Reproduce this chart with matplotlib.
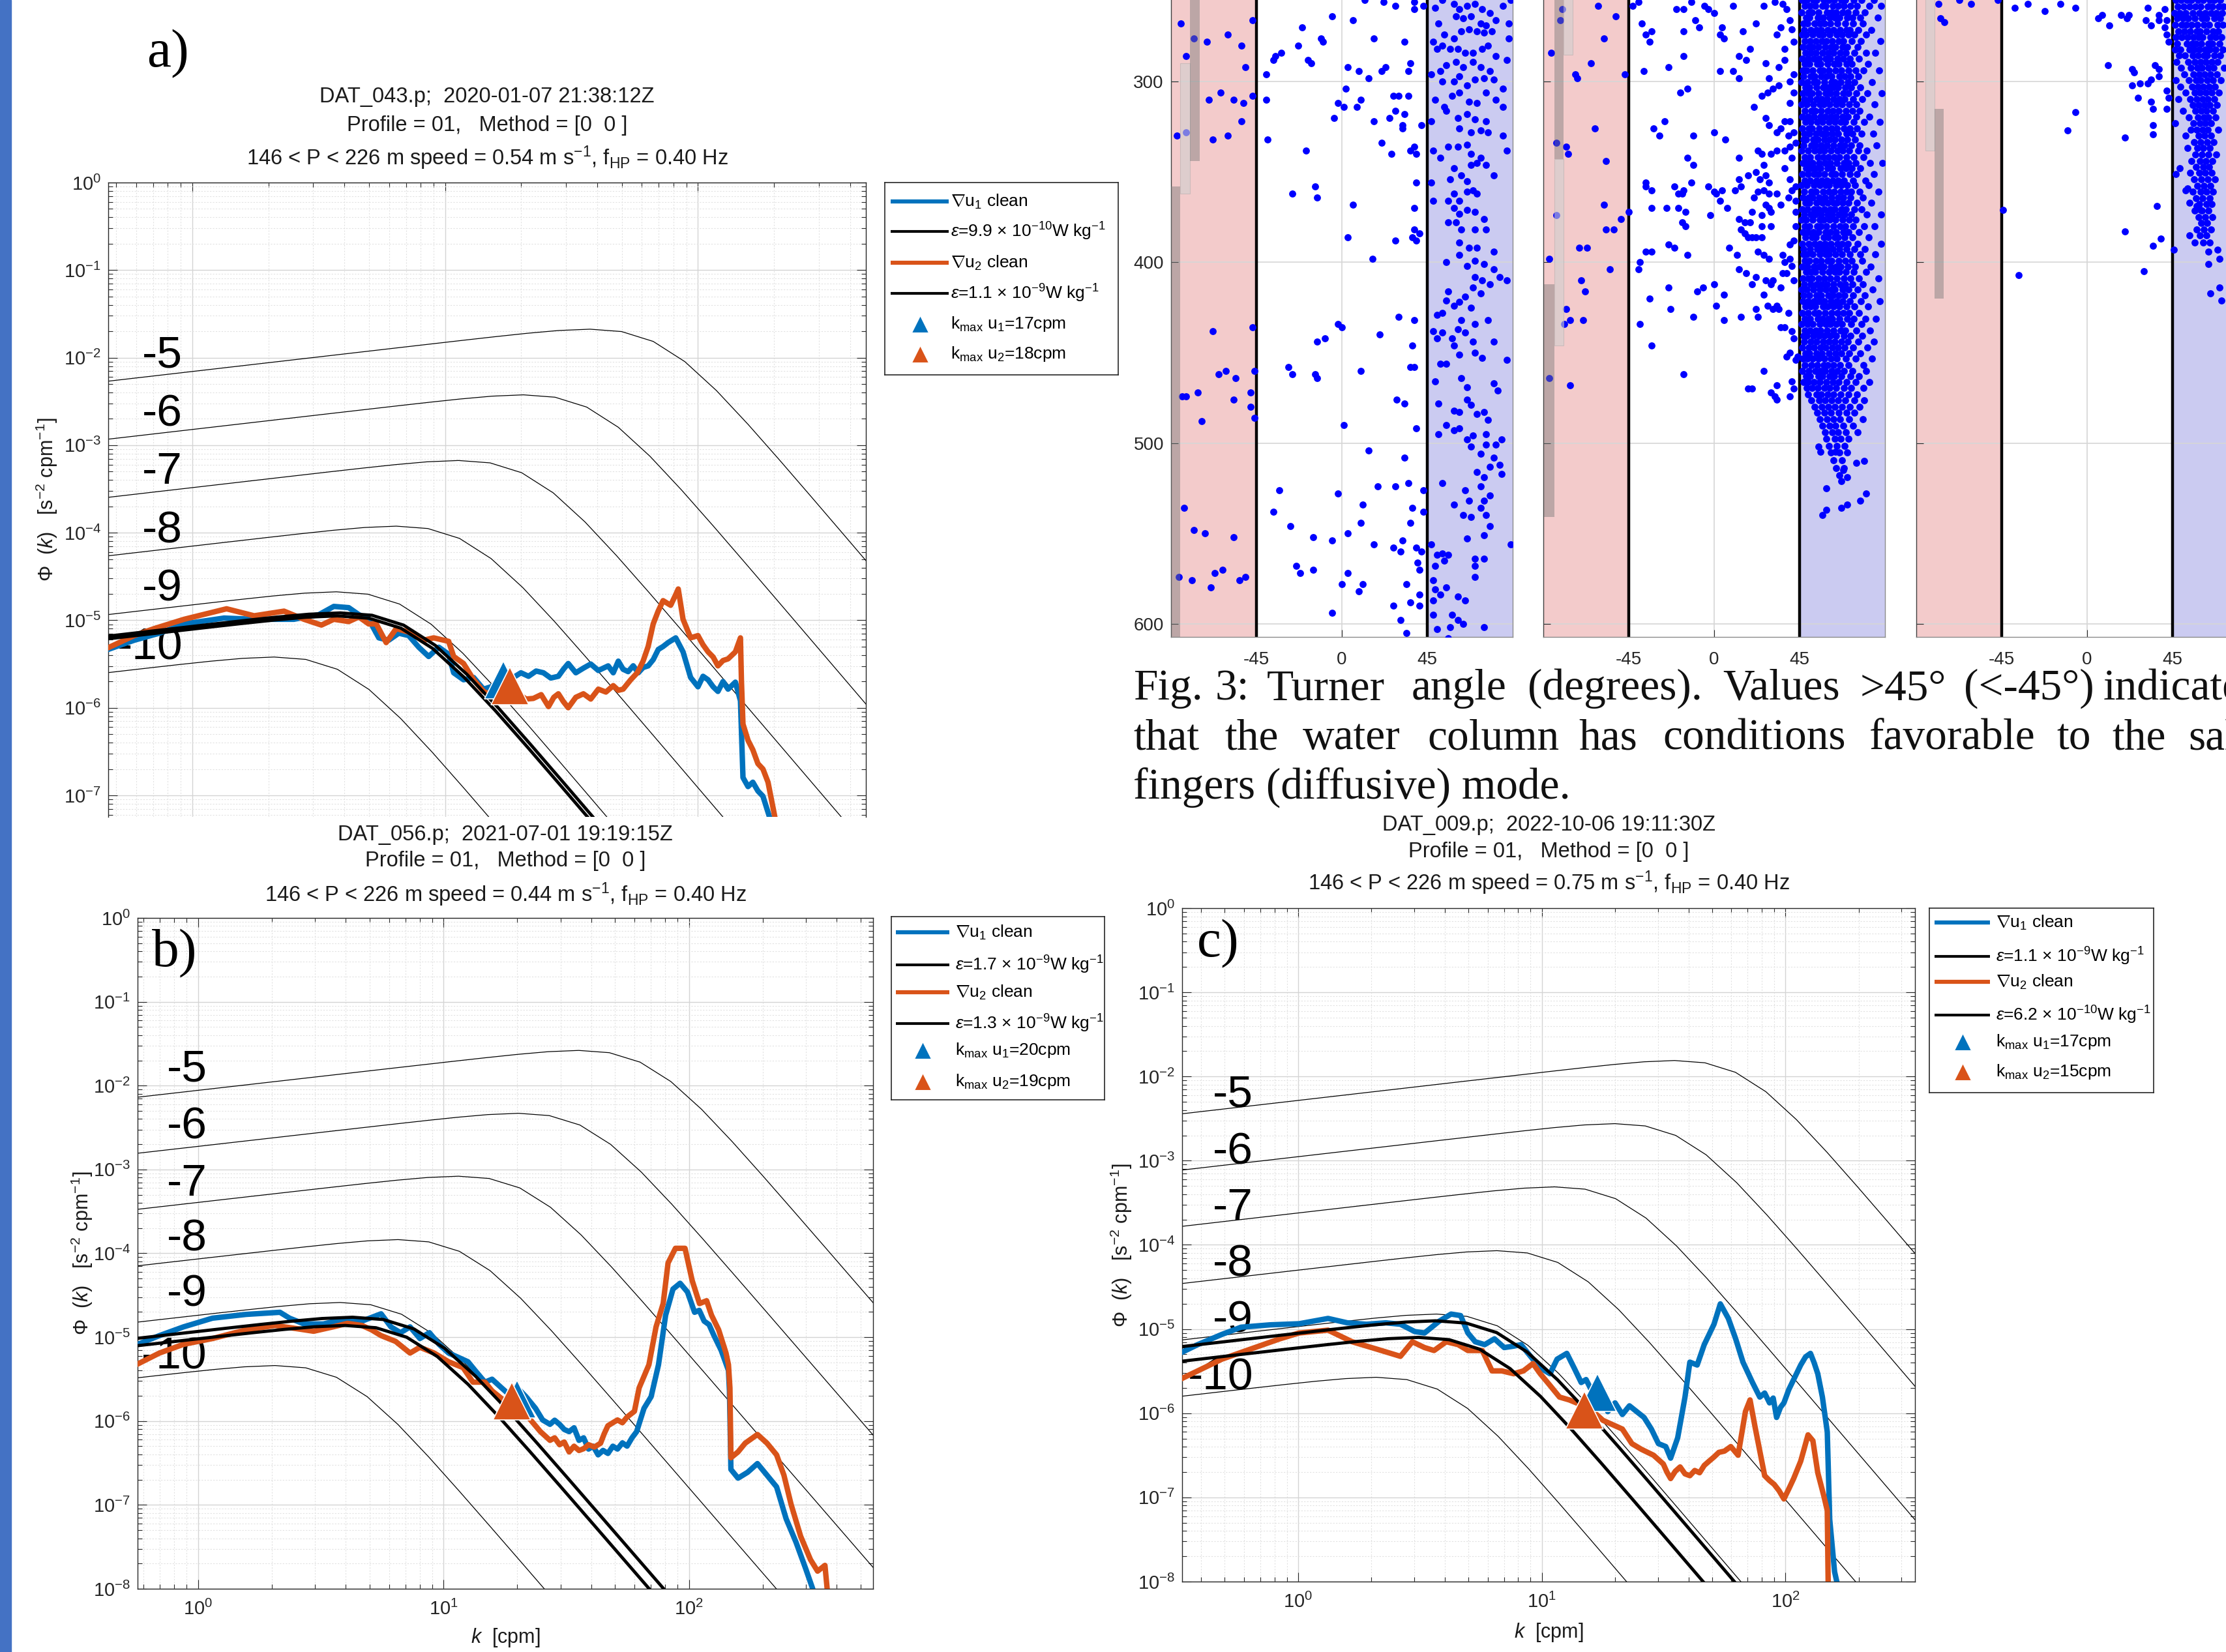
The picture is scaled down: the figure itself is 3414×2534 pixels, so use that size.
import matplotlib.pyplot as plt
import numpy as np
from matplotlib.patches import Rectangle
from matplotlib.ticker import LogLocator, NullFormatter

FIG_W, FIG_H, DPI = 3414, 2534, 100

BLUE = "#0072BD"
ORANGE = "#D95319"
PINK = "#F3CBCB"
LAVENDER = "#CBCBF1"

# ---------------------------------------------------------------- spectra data
# shape of the reference (Nasmyth) curves:
# decades away from the peak of each curve
SHAPE_DK = [-3.0, -1.0, -0.75, -0.5, -0.375, -0.25, -0.125, 0.0, 0.125, 0.25,
            0.375, 0.5, 0.625, 0.75, 0.875, 1.0, 1.25, 1.5, 3.0]
SHAPE_DPHI = [-0.959, -0.2925, -0.2092, -0.1264, -0.0859, -0.0475, -0.0153, 0.0,
              -0.0272, -0.1399, -0.3705, -0.7011, -1.087, -1.4963, -1.9144,
              -2.3355, -3.1804, -4.0256, -9.098]

REF_LABELS = ["-10", "-9", "-8", "-7", "-6", "-5"]

# log10 (k, Phi) of the peak of each reference curve, eps = 1e-10 ... 1e-5
A_REF_PEAKS = [(0.324, -5.42), (0.570, -4.675), (0.807, -3.925),
               (1.053, -3.175), (1.310, -2.425), (1.573, -1.675)]
B_REF_PEAKS = [(0.314, -5.338), (0.579, -4.586), (0.815, -3.836),
               (1.061, -3.080), (1.306, -2.330), (1.551, -1.580)]
C_REF_PEAKS = [(0.321, -5.573), (0.568, -4.822), (0.816, -4.069),
               (1.053, -3.311), (1.300, -2.560), (1.545, -1.810)]

# fitted spectra peaks (u1, u2)
A_FITS = [(0.575, -4.950), (0.586, -4.916)]
B_FITS = [(0.630, -4.762), (0.600, -4.860)]
C_FITS = [(0.565, -4.902), (0.495, -5.099)]

# k_max markers, log10 (k, Phi)
A_KMAX = [(1.230, -5.68), (1.255, -5.75)]
B_KMAX = [(1.301, -5.74), (1.279, -5.76)]
C_KMAX = [(1.230, -5.756), (1.176, -5.964)]

# measured shear spectra, log10 (k [cpm], Phi)
A_U1 = [(-0.347, -5.348), (-0.229, -5.228), (-0.130, -5.148), (-0.032, -5.042),
        (0.126, -4.975), (0.245, -4.989), (0.402, -4.989), (0.501, -4.936),
        (0.560, -4.842), (0.619, -4.856), (0.659, -4.936), (0.698, -4.989),
        (0.738, -5.201), (0.777, -5.228), (0.817, -5.148), (0.856, -5.175),
        (0.896, -5.308), (0.935, -5.414), (0.975, -5.308), (1.014, -5.388),
        (1.034, -5.600), (1.073, -5.680), (1.113, -5.654), (1.152, -5.787),
        (1.182, -5.760), (1.211, -5.700), (1.240, -5.620), (1.270, -5.654),
        (1.300, -5.600), (1.330, -5.640), (1.360, -5.580), (1.389, -5.600),
        (1.418, -5.660), (1.448, -5.640), (1.468, -5.560), (1.487, -5.494),
        (1.517, -5.600), (1.547, -5.547), (1.576, -5.500), (1.606, -5.574),
        (1.645, -5.521), (1.665, -5.600), (1.685, -5.467), (1.704, -5.560),
        (1.724, -5.587), (1.744, -5.520), (1.764, -5.600), (1.783, -5.540),
        (1.803, -5.521), (1.823, -5.450), (1.843, -5.334), (1.862, -5.300),
        (1.882, -5.255), (1.912, -5.201), (1.941, -5.361), (1.971, -5.654),
        (2.000, -5.760), (2.020, -5.640), (2.040, -5.680), (2.060, -5.760),
        (2.079, -5.813), (2.099, -5.700), (2.119, -5.787), (2.148, -5.707),
        (2.168, -5.920), (2.174, -6.451), (2.178, -6.797), (2.198, -6.900),
        (2.217, -6.850), (2.237, -6.950), (2.257, -7.010), (2.286, -7.276)]
A_U2 = [(-0.347, -5.334), (-0.229, -5.175), (-0.150, -5.095), (-0.032, -4.989),
        (0.136, -4.869), (0.245, -4.949), (0.363, -4.896), (0.442, -4.989),
        (0.511, -5.055), (0.560, -4.989), (0.619, -5.015), (0.659, -4.962),
        (0.698, -5.042), (0.728, -5.042), (0.767, -5.255), (0.807, -5.095),
        (0.856, -5.135), (0.915, -5.228), (0.955, -5.201), (1.014, -5.241),
        (1.034, -5.414), (1.073, -5.494), (1.113, -5.680), (1.152, -5.813),
        (1.192, -5.866), (1.231, -5.893), (1.260, -5.830), (1.290, -5.840),
        (1.320, -5.900), (1.349, -5.893), (1.380, -5.850), (1.409, -5.986),
        (1.430, -5.880), (1.448, -5.840), (1.468, -5.930), (1.487, -5.999),
        (1.517, -5.880), (1.547, -5.840), (1.576, -5.900), (1.606, -5.787),
        (1.636, -5.820), (1.665, -5.747), (1.685, -5.800), (1.704, -5.787),
        (1.734, -5.680), (1.760, -5.600), (1.783, -5.467), (1.803, -5.300),
        (1.823, -5.042), (1.842, -4.900), (1.862, -4.776), (1.892, -4.829),
        (1.910, -4.720), (1.922, -4.643), (1.941, -4.989), (1.971, -5.201),
        (2.000, -5.175), (2.020, -5.280), (2.040, -5.361), (2.060, -5.420),
        (2.079, -5.521), (2.099, -5.460), (2.119, -5.441), (2.148, -5.361),
        (2.168, -5.201), (2.172, -5.700), (2.178, -6.186), (2.198, -6.372),
        (2.217, -6.480), (2.237, -6.638), (2.257, -6.700), (2.277, -6.850),
        (2.306, -7.276)]

B_U1 = [(-0.275, -5.120), (-0.157, -4.981), (-0.059, -4.877), (0.059, -4.773),
        (0.196, -4.728), (0.334, -4.703), (0.373, -4.773), (0.432, -4.842),
        (0.511, -4.842), (0.589, -4.790), (0.668, -4.808), (0.746, -4.721),
        (0.786, -4.877), (0.825, -4.946), (0.864, -4.877), (0.904, -5.016),
        (0.943, -4.946), (0.982, -5.085), (1.021, -5.189), (1.061, -5.241),
        (1.100, -5.293), (1.129, -5.397), (1.169, -5.536), (1.198, -5.501),
        (1.237, -5.605), (1.277, -5.709), (1.296, -5.588), (1.336, -5.709),
        (1.375, -5.848), (1.404, -5.987), (1.434, -6.039), (1.453, -5.990),
        (1.473, -6.039), (1.492, -6.100), (1.512, -6.126), (1.532, -6.080),
        (1.552, -6.230), (1.571, -6.200), (1.591, -6.334), (1.610, -6.300),
        (1.630, -6.403), (1.650, -6.350), (1.670, -6.386), (1.690, -6.300),
        (1.709, -6.334), (1.729, -6.260), (1.748, -6.299), (1.768, -6.200),
        (1.787, -6.126), (1.817, -5.848), (1.846, -5.709), (1.876, -5.328),
        (1.905, -4.738), (1.935, -4.426), (1.964, -4.357), (1.994, -4.461),
        (2.023, -4.703), (2.042, -4.680), (2.062, -4.808), (2.082, -4.850),
        (2.102, -4.981), (2.131, -5.154), (2.161, -5.397), (2.165, -5.640),
        (2.171, -6.577), (2.200, -6.681), (2.239, -6.611), (2.279, -6.507),
        (2.318, -6.646), (2.357, -6.785), (2.396, -7.166), (2.436, -7.444),
        (2.475, -7.756), (2.504, -7.999), (2.520, -8.200)]
B_U2 = [(-0.275, -5.363), (-0.157, -5.189), (-0.059, -5.085), (0.059, -5.016),
        (0.196, -4.912), (0.314, -4.860), (0.393, -4.894), (0.471, -4.929),
        (0.550, -4.877), (0.609, -4.835), (0.668, -4.860), (0.707, -4.912),
        (0.746, -4.981), (0.805, -5.050), (0.864, -5.189), (0.904, -5.120),
        (0.962, -5.189), (1.021, -5.293), (1.080, -5.363), (1.120, -5.536),
        (1.169, -5.536), (1.198, -5.640), (1.257, -5.779), (1.316, -5.848),
        (1.355, -5.987), (1.395, -6.126), (1.434, -6.230), (1.453, -6.200),
        (1.473, -6.282), (1.492, -6.250), (1.512, -6.368), (1.532, -6.300),
        (1.552, -6.351), (1.571, -6.330), (1.591, -6.282), (1.615, -6.310),
        (1.640, -6.264), (1.655, -6.150), (1.670, -6.056), (1.690, -6.020),
        (1.709, -5.987), (1.729, -6.020), (1.748, -5.952), (1.778, -5.883),
        (1.797, -5.605), (1.837, -5.328), (1.866, -4.877), (1.895, -4.599),
        (1.915, -4.114), (1.945, -3.940), (1.984, -3.940), (2.013, -4.322),
        (2.043, -4.599), (2.072, -4.565), (2.092, -4.738), (2.121, -4.912),
        (2.151, -5.189), (2.161, -5.328), (2.167, -5.605), (2.171, -6.438),
        (2.200, -6.368), (2.229, -6.264), (2.279, -6.160), (2.318, -6.264),
        (2.357, -6.403), (2.387, -6.646), (2.416, -6.993), (2.455, -7.374),
        (2.495, -7.652), (2.524, -7.790), (2.554, -7.721), (2.563, -7.999),
        (2.570, -8.200)]

C_U1 = [(-0.511, -5.324), (-0.412, -5.185), (-0.313, -5.064), (-0.234, -4.978),
        (-0.115, -4.950), (0.004, -4.937), (0.123, -4.874), (0.202, -4.926),
        (0.281, -4.943), (0.360, -4.926), (0.420, -4.943), (0.479, -5.030),
        (0.519, -5.047), (0.578, -4.909), (0.628, -4.822), (0.667, -4.840),
        (0.697, -5.047), (0.727, -5.151), (0.766, -5.185), (0.806, -5.116),
        (0.846, -5.220), (0.885, -5.203), (0.915, -5.185), (0.954, -5.324),
        (0.994, -5.462), (1.034, -5.531), (1.063, -5.358), (1.103, -5.289),
        (1.133, -5.462), (1.162, -5.635), (1.182, -5.600), (1.212, -5.773),
        (1.242, -5.704), (1.271, -5.981), (1.301, -5.877), (1.331, -6.015),
        (1.360, -5.912), (1.390, -5.981), (1.420, -6.050), (1.450, -6.188),
        (1.479, -6.361), (1.509, -6.396), (1.529, -6.534), (1.558, -6.292),
        (1.588, -5.808), (1.608, -5.393), (1.638, -5.427), (1.667, -5.185),
        (1.707, -4.943), (1.733, -4.701), (1.766, -4.874), (1.796, -5.116),
        (1.826, -5.393), (1.865, -5.635), (1.895, -5.808), (1.915, -5.760),
        (1.935, -5.877), (1.950, -5.820), (1.964, -6.050), (1.980, -5.930),
        (1.994, -5.877), (2.014, -5.720), (2.034, -5.600), (2.063, -5.427),
        (2.083, -5.330), (2.103, -5.289), (2.118, -5.400), (2.133, -5.531),
        (2.152, -5.808), (2.172, -6.223), (2.182, -7.260), (2.202, -7.883),
        (2.218, -8.090)]
C_U2 = [(-0.511, -5.635), (-0.412, -5.497), (-0.313, -5.358), (-0.194, -5.237),
        (-0.075, -5.116), (0.004, -5.047), (0.123, -5.013), (0.222, -5.151),
        (0.321, -5.237), (0.420, -5.324), (0.469, -5.151), (0.519, -5.220),
        (0.558, -5.255), (0.608, -5.151), (0.657, -5.185), (0.697, -5.255),
        (0.756, -5.255), (0.796, -5.497), (0.836, -5.497), (0.885, -5.531),
        (0.925, -5.497), (0.964, -5.410), (0.994, -5.531), (1.034, -5.670),
        (1.073, -5.808), (1.113, -5.842), (1.172, -5.912), (1.212, -5.981),
        (1.251, -6.084), (1.291, -6.136), (1.331, -6.188), (1.370, -6.361),
        (1.410, -6.430), (1.459, -6.499), (1.499, -6.603), (1.514, -6.700),
        (1.529, -6.776), (1.548, -6.690), (1.568, -6.638), (1.588, -6.720),
        (1.608, -6.742), (1.628, -6.680), (1.648, -6.707), (1.667, -6.620),
        (1.687, -6.569), (1.707, -6.520), (1.727, -6.465), (1.750, -6.450),
        (1.776, -6.396), (1.806, -6.499), (1.836, -5.981), (1.855, -5.842),
        (1.875, -6.154), (1.915, -6.742), (1.935, -6.800), (1.954, -6.845),
        (1.974, -6.920), (1.994, -7.018), (2.014, -6.900), (2.034, -6.776),
        (2.063, -6.569), (2.093, -6.257), (2.113, -6.327), (2.133, -6.707),
        (2.158, -6.984), (2.172, -7.156), (2.176, -8.090)]

# ---------------------------------------------------------------- Turner angle data
# (Turner angle [deg], pressure [dbar])
T1_POINTS = [
    (-85, 268), (-47, 266), (-60, 274), (-71, 278), (-53, 280), (-82, 286), (-51, 292),
    (-64, 306), (-70, 310), (-57, 310), (-52, 312), (-47, 308), (-53, 322), (-87, 330),
    (-68, 332), (-60, 330), (-68, 438), (-47, 436), (-65, 462), (-61, 460), (-56, 464),
    (-46, 460), (-84, 474), (-82, 474), (-76, 472), (-57, 476), (-48, 472), (-48, 480),
    (-74, 488), (-46, 486), (-83, 536), (-78, 548), (-72, 550), (-57, 552), (-86, 574),
    (-79, 576), (-69, 580), (-67, 572), (-63, 570), (-54, 576), (-51, 574), (-78, 276),
    (-82, 328),
    (-5, 264), (6, 266), (-21, 270), (17, 276), (-11, 276), (-10, 278), (-23, 280),
    (-32, 284), (-35, 286), (-36, 288), (-18, 288), (-16, 290), (-40, 296), (3, 292),
    (9, 294), (14, 298), (21, 294), (23, 292), (36, 290), (35, 294), (33, 278),
    (-40, 310), (2, 304), (-2, 312), (1, 314), (8, 314), (10, 310), (27, 308), (30, 308),
    (35, 308), (28, 316), (33, 318), (-4, 320), (17, 322), (25, 320), (32, 324),
    (32, 326), (42, 324), (-39, 332), (-19, 338), (21, 334), (26, 340), (36, 338),
    (38, 336), (39, 340), (39, 356), (-14, 358), (-13, 364), (-26, 362), (6, 368),
    (38, 370), (3, 386), (28, 388), (38, 382), (41, 384), (37, 386), (39, 388), (16, 398),
    (30, 430), (38, 432), (-2, 434), (0, 436), (-9, 442), (-13, 444), (20, 440),
    (37, 446), (-28, 458), (-26, 462), (-14, 462), (-13, 464), (10, 460), (36, 458),
    (38, 458), (29, 476), (33, 478), (1, 490), (39, 492), (14, 504), (33, 508),
    (-33, 526), (-2, 528), (19, 524), (28, 524), (35, 522), (43, 526), (11, 534),
    (-36, 538), (37, 536), (43, 538), (-27, 546), (10, 544), (36, 544), (-15, 552),
    (-5, 554), (3, 550), (17, 556), (27, 558), (31, 560), (32, 554), (39, 558), (42, 560),
    (-24, 568), (-22, 572), (-15, 570), (3, 572), (40, 566), (41, 570), (0, 578),
    (11, 578), (9, 582), (34, 578), (41, 584), (-5, 594), (27, 590), (36, 588), (41, 590),
    (31, 598), (34, 605), (12, 255), (22, 256), (28, 258), (38, 260), (43, 258), (38, 256),
    (49, 259), (53, 255), (59, 257), (62, 260), (66, 258), (70, 257), (74, 260), (78, 262),
    (85, 258), (89, 255), (51, 268), (60, 264), (64, 265), (68, 264), (73, 268), (76, 269),
    (81, 266), (88, 268), (54, 274), (59, 276), (63, 272), (67, 271), (71, 272), (75, 273),
    (79, 272), (88, 276), (48, 278), (50, 282), (53, 280), (57, 282), (61, 282), (65, 284),
    (69, 284), (74, 282), (77, 280), (81, 286), (87, 288), (47, 296), (52, 294), (55, 291),
    (60, 289), (64, 292), (69, 289), (73, 292), (78, 294), (53, 300), (59, 300), (62, 297),
    (66, 302), (70, 299), (75, 298), (80, 299), (85, 304), (49, 310), (54, 314), (58, 308),
    (62, 306), (67, 311), (71, 312), (76, 306), (81, 310), (85, 314), (47, 322), (55, 316),
    (61, 320), (66, 318), (70, 321), (76, 322), (62, 326), (68, 328), (73, 327), (77, 328),
    (85, 330), (87, 338), (48, 338), (52, 342), (56, 336), (61, 336), (66, 335), (68, 340),
    (73, 342), (47, 356), (48, 366), (57, 354), (59, 348), (63, 352), (66, 355), (68, 346),
    (71, 345), (76, 346), (80, 352), (56, 366), (59, 362), (62, 366), (66, 361), (69, 360),
    (71, 362), (59, 370), (62, 373), (66, 371), (70, 372), (75, 376), (56, 378), (60, 378),
    (63, 382), (70, 382), (76, 382), (62, 389), (67, 392), (71, 392), (80, 394), (55, 400),
    (62, 396), (66, 402), (70, 399), (75, 401), (80, 404), (83, 408), (87, 410), (70, 408),
    (74, 410), (78, 412), (69, 414), (73, 417), (56, 416), (55, 421), (59, 424), (62, 422),
    (65, 419), (68, 425), (50, 429), (53, 428), (63, 432), (70, 434), (77, 432), (48, 438),
    (53, 439), (58, 442), (61, 437), (65, 439), (69, 444), (50, 442), (59, 446), (62, 451),
    (70, 450), (74, 453), (80, 444), (52, 456), (55, 456), (87, 454), (49, 466), (63, 464),
    (66, 469), (80, 467), (82, 471), (51, 478), (59, 482), (62, 483), (66, 476), (68, 479),
    (71, 484), (75, 483), (77, 487), (51, 495), (55, 490), (59, 493), (62, 492), (66, 498),
    (69, 496), (76, 495), (76, 501), (81, 501), (84, 498), (68, 502), (73, 506), (80, 508),
    (83, 512), (78, 513), (84, 517), (71, 516), (75, 519), (53, 522), (59, 534), (65, 526),
    (67, 532), (73, 524), (75, 532), (78, 529), (64, 540), (68, 541), (66, 553), (73, 536),
    (76, 540), (75, 551), (78, 546), (89, 556), (47, 556), (50, 562), (53, 561), (56, 562),
    (54, 565), (49, 568), (48, 576), (49, 581), (52, 584), (55, 580), (70, 564), (75, 564),
    (70, 568), (70, 574), (61, 585), (65, 587), (48, 587), (48, 595), (58, 595), (61, 598),
    (64, 600), (50, 603), (57, 602), (75, 602), (56, 608)]

T2_POINTS = [
    (-61, 258), (-52, 264), (-86, 284), (-58, 276), (-65, 290), (-73, 296), (-72, 298),
    (-47, 296), (-63, 326), (-83, 334), (-78, 336), (-77, 340), (-57, 344), (-58, 368),
    (-49, 376), (-57, 382), (-53, 382), (-71, 392), (-67, 392), (-87, 398), (-55, 404),
    (-70, 410), (-68, 416), (-78, 426), (-76, 432), (-69, 432), (-79, 434), (-87, 464),
    (-76, 468), (-83, 374), (-45, 372), (-81, 266), (-80, 260),
    (-43, 258), (-40, 256), (-38, 268), (-36, 274), (-33, 272), (-34, 278), (-37, 294),
    (-24, 292), (-20, 260), (-16, 260), (-12, 256), (-10, 266), (-8, 270), (-16, 272),
    (-16, 286), (-5, 258), (-3, 260), (0, 262), (3, 294), (4, 270), (5, 276), (3, 274),
    (10, 258), (10, 294), (13, 298), (13, 286), (15, 272), (17, 288), (19, 282), (22, 268),
    (26, 258), (27, 290), (29, 298), (34, 292), (37, 288), (33, 274), (35, 270), (37, 282),
    (40, 266), (41, 271), (42, 278), (32, 256), (36, 257), (38, 260), (-18, 306),
    (-14, 304), (25, 308), (28, 306), (31, 304), (34, 302), (40, 300), (42, 296),
    (21, 314), (40, 312), (42, 306), (-32, 326), (-29, 330), (-26, 322), (-11, 330),
    (0, 328), (6, 332), (27, 320), (29, 324), (33, 328), (35, 326), (37, 322), (40, 322),
    (39, 330), (42, 328), (23, 338), (25, 340), (30, 340), (33, 338), (37, 338), (40, 336),
    (43, 334), (13, 342), (-14, 342), (-11, 346), (26, 346), (37, 348), (41, 342),
    (22, 350), (18, 352), (24, 354), (27, 352), (29, 356), (40, 354), (43, 358), (13, 354),
    (14, 358), (11, 360), (-36, 356), (-36, 358), (-33, 360), (-21, 358), (-19, 362),
    (-16, 360), (-17, 362), (-12, 356), (-3, 358), (0, 361), (1, 362), (4, 360), (3, 366),
    (7, 370), (21, 364), (23, 361), (26, 360), (29, 362), (33, 362), (35, 368), (39, 364),
    (41, 360), (29, 370), (27, 368), (25, 374), (20, 372), (30, 372), (43, 366), (43, 372),
    (-33, 370), (-25, 370), (-19, 370), (-15, 372), (-17, 378), (-15, 380), (-2, 374),
    (13, 376), (16, 378), (19, 378), (14, 382), (16, 384), (18, 386), (20, 386), (22, 386),
    (25, 386), (25, 380), (30, 380), (40, 390), (42, 388), (43, 380), (-24, 390),
    (-21, 392), (-36, 394), (-33, 394), (-14, 396), (8, 392), (12, 396), (23, 394),
    (26, 396), (29, 398), (36, 396), (40, 398), (37, 400), (41, 402), (-39, 400),
    (-40, 404), (13, 404), (17, 406), (22, 408), (20, 412), (27, 410), (30, 412), (31, 410),
    (36, 406), (38, 406), (35, 414), (42, 410), (-24, 414), (-9, 416), (-6, 414), (0, 412),
    (5, 418), (-34, 420), (26, 418), (33, 424), (34, 426), (28, 424), (31, 426), (39, 428),
    (22, 426), (23, 430), (14, 430), (1, 424), (5, 432), (-11, 430), (-23, 426), (-39, 434),
    (35, 436), (37, 436), (41, 438), (42, 442), (-33, 446), (38, 452), (40, 450),
    (43, 454), (44, 452), (-16, 462), (26, 460), (18, 470), (20, 470), (33, 468), (30, 472),
    (32, 474), (33, 476), (40, 474), (42, 470), (41, 466),
    (57, 540), (59, 537), (67, 536), (70, 534), (77, 532), (80, 528), (75, 511), (79, 510),
    (59, 525), (70, 519), (67, 521), (68, 515), (55, 502), (56, 505), (64, 505)]

# dense cloud on the salt-finger side: (pressure, [angles])
T2_DENSE_ROWS = [
    (255.0, [46.5, 48.9, 52.3, 54.0, 57.8, 60.4, 63.1, 66.9, 69.2, 73.5, 77.8, 84.1]),
    (258.2, [47.8, 50.6, 53.2, 56.9, 58.7, 62.5, 65.3, 68.4, 71.9, 75.2, 81.6, 88.0]),
    (261.7, [46.2, 49.7, 51.4, 55.1, 59.3, 61.8, 64.2, 67.7, 70.5, 74.6, 79.3]),
    (264.4, [48.3, 50.1, 54.6, 57.2, 60.9, 63.7, 66.1, 70.0, 72.8, 76.9, 86.2]),
    (267.9, [46.9, 49.2, 52.8, 55.7, 58.1, 61.3, 65.0, 68.9, 73.1, 78.4]),
    (271.3, [47.4, 51.0, 53.9, 56.3, 59.6, 62.9, 66.4, 69.7, 71.3, 75.8, 82.7]),
    (274.1, [46.3, 48.6, 52.0, 55.4, 57.5, 60.8, 64.6, 67.2, 70.9, 74.0, 80.1]),
    (277.6, [47.9, 50.4, 53.5, 56.6, 59.0, 62.2, 65.7, 68.0, 72.4, 77.3, 87.5]),
    (280.8, [46.7, 49.9, 51.8, 54.9, 58.4, 61.5, 63.9, 67.5, 70.2, 75.5]),
    (283.9, [48.0, 50.9, 53.6, 57.0, 60.1, 62.7, 66.2, 69.4, 73.8, 79.9, 84.8]),
    (287.4, [46.4, 49.4, 52.5, 55.3, 58.9, 61.1, 64.8, 68.1, 71.6, 76.3]),
    (290.2, [47.6, 50.3, 54.2, 56.1, 59.7, 63.3, 65.5, 69.9, 72.5, 81.0]),
    (293.8, [46.8, 48.8, 51.9, 55.8, 57.3, 60.6, 64.0, 67.0, 70.7, 74.4, 78.6, 86.9]),
    (296.9, [47.2, 50.8, 53.0, 56.5, 59.2, 62.0, 65.9, 68.6, 71.8, 76.0]),
    (300.3, [46.1, 49.0, 52.6, 54.4, 58.0, 61.7, 63.5, 66.8, 70.3, 73.7, 83.3]),
    (303.1, [48.1, 50.2, 53.8, 57.4, 60.2, 62.4, 65.1, 69.0, 72.2, 77.1]),
    (306.6, [46.6, 49.6, 51.6, 55.0, 58.6, 61.0, 64.4, 67.9, 70.6, 75.0, 80.6, 88.3]),
    (309.8, [47.3, 50.5, 54.1, 56.7, 59.4, 63.0, 66.0, 68.7, 73.3, 78.1]),
    (312.7, [46.0, 48.7, 52.2, 55.5, 57.6, 60.7, 64.3, 67.4, 71.0, 74.8, 84.5]),
    (316.2, [47.7, 51.2, 53.4, 56.2, 59.9, 62.6, 65.6, 69.5, 72.7, 76.6]),
    (319.4, [46.5, 49.3, 52.7, 55.9, 58.3, 61.6, 64.1, 67.8, 70.4, 74.9, 81.9]),
    (322.3, [48.2, 50.7, 54.3, 57.1, 60.3, 63.4, 66.6, 69.1, 73.6, 79.0, 87.1]),
    (325.9, [46.3, 49.8, 51.5, 55.2, 58.8, 61.9, 64.7, 68.3, 71.5, 75.4]),
    (328.8, [47.5, 50.0, 53.7, 56.8, 59.1, 62.3, 65.4, 69.8, 72.9, 77.6, 83.8]),
    (332.1, [46.9, 48.5, 52.1, 54.7, 58.2, 60.9, 63.6, 67.1, 70.1, 74.3]),
    (335.4, [47.1, 51.1, 53.3, 56.4, 59.5, 62.8, 66.3, 68.8, 72.1, 76.7, 85.7]),
    (338.2, [46.2, 49.5, 52.9, 55.6, 57.9, 61.4, 64.9, 67.6, 71.2, 75.9, 80.4]),
    (341.7, [47.9, 50.4, 54.5, 57.3, 60.0, 63.2, 65.8, 69.6, 73.4, 78.8]),
    (344.9, [46.7, 49.1, 51.7, 55.4, 58.5, 61.2, 64.5, 68.2, 70.8, 74.7, 82.2, 88.6]),
    (347.8, [48.4, 50.9, 53.1, 56.0, 59.8, 62.1, 66.7, 69.3, 72.6, 77.0]),
    (351.3, [46.4, 49.4, 52.4, 55.1, 58.0, 61.8, 63.8, 67.3, 71.4, 75.3, 84.0]),
    (354.6, [47.6, 50.6, 54.0, 56.6, 59.3, 62.5, 65.2, 68.5, 73.0, 79.6]),
    (357.4, [46.1, 48.9, 52.7, 55.7, 58.7, 60.5, 64.2, 67.0, 70.0, 74.1, 81.3]),
    (360.9, [47.3, 51.3, 53.6, 57.5, 60.4, 63.1, 66.5, 69.9, 72.3, 76.5, 86.4]),
    (364.1, [46.8, 49.7, 52.0, 55.3, 58.4, 61.7, 65.1, 68.0, 71.7, 78.2]),
    (367.0, [48.0, 50.3, 53.9, 56.9, 59.7, 62.9, 64.6, 67.7, 70.6, 75.1, 82.9]),
    (370.5, [46.5, 49.0, 52.5, 54.8, 58.1, 61.0, 63.5, 66.9, 69.4, 73.9, 77.7]),
    (373.6, [47.4, 50.8, 53.2, 56.2, 59.9, 62.2, 65.7, 68.8, 72.0, 80.5, 87.8]),
    (376.4, [46.2, 48.6, 51.8, 55.6, 57.7, 60.8, 64.0, 67.5, 71.1, 74.5]),
    (379.9, [47.8, 50.1, 54.4, 56.5, 59.2, 62.7, 66.2, 69.2, 73.2, 78.9, 84.6]),
    (383.2, [46.6, 49.3, 52.3, 55.0, 58.6, 61.3, 64.4, 67.9, 70.7, 76.4]),
    (386.1, [48.1, 51.4, 53.5, 57.6, 60.1, 63.6, 65.3, 68.6, 72.8, 81.4]),
    (389.6, [46.3, 49.8, 52.8, 55.8, 58.3, 61.5, 64.8, 67.2, 70.3, 75.6, 88.1]),
    (392.8, [47.0, 50.5, 54.2, 56.8, 59.4, 62.4, 66.0, 69.7, 73.7, 79.2]),
    (395.7, [46.9, 48.8, 51.9, 55.5, 58.9, 60.6, 63.9, 67.4, 71.3, 76.8, 85.0]),
    (399.2, [47.7, 50.0, 53.7, 56.3, 59.6, 62.0, 65.6, 68.9, 72.4, 77.9]),
    (402.4, [46.4, 49.2, 52.6, 55.2, 57.8, 61.6, 64.3, 66.8, 70.5, 74.2, 82.5]),
    (405.3, [48.3, 50.7, 53.4, 57.0, 60.5, 63.4, 65.9, 69.5, 73.5, 80.0]),
    (408.8, [46.7, 49.6, 51.6, 54.9, 58.2, 61.1, 64.7, 68.3, 71.8, 76.2, 86.7]),
    (412.0, [47.5, 50.9, 53.8, 56.6, 59.5, 62.8, 66.4, 69.0, 72.7, 78.3]),
    (414.9, [46.0, 48.7, 52.1, 55.7, 58.8, 61.9, 63.7, 67.6, 70.9, 75.7, 83.5]),
    (418.4, [47.2, 50.2, 54.0, 56.4, 60.0, 62.6, 65.5, 68.7, 73.1, 79.4]),
    (421.6, [46.8, 49.5, 52.4, 55.4, 58.0, 61.4, 64.5, 67.8, 71.5, 77.2, 87.3]),
    (424.5, [48.2, 51.0, 53.3, 57.2, 59.8, 63.0, 66.1, 69.6, 74.0, 81.2]),
    (428.0, [46.5, 49.4, 52.9, 55.1, 58.5, 61.7, 64.9, 68.1, 71.0, 76.1]),
    (431.2, [47.9, 50.6, 54.5, 56.9, 60.2, 62.3, 65.8, 70.1, 73.6, 79.8, 85.3]),
    (434.1, [46.2, 49.1, 51.7, 55.6, 58.7, 61.2, 64.1, 67.3, 72.1, 77.5]),
    (437.6, [47.6, 50.4, 53.6, 56.1, 59.3, 62.9, 66.6, 69.2, 74.8, 82.1]),
    (440.8, [46.9, 48.9, 52.2, 55.3, 58.2, 61.0, 64.4, 68.4, 71.9, 78.0]),
    (443.7, [47.3, 50.8, 54.1, 57.4, 60.6, 63.5, 67.1, 70.4, 75.9, 84.3]),
    (447.2, [46.4, 49.7, 52.6, 55.9, 58.9, 62.1, 65.3, 68.8, 73.0, 80.8]),
    (450.4, [48.0, 50.1, 53.9, 56.7, 60.4, 63.8, 66.9, 71.2, 76.9]),
    (453.3, [46.6, 49.2, 52.0, 55.0, 58.1, 61.5, 64.6, 69.3, 74.4, 83.0]),
    (456.8, [47.8, 51.2, 54.3, 57.6, 59.6, 62.7, 66.3, 70.6, 78.5]),
    (460.0, [46.3, 49.9, 53.1, 56.0, 58.4, 61.9, 65.0, 68.2, 72.9, 80.2]),
    (462.9, [48.5, 50.5, 54.8, 57.1, 60.7, 63.3, 67.0, 71.7, 76.2]),
    (466.4, [47.1, 49.6, 52.7, 55.8, 59.0, 62.4, 65.7, 69.8, 74.6, 81.7]),
    (469.6, [48.7, 51.5, 54.6, 57.9, 60.9, 64.2, 68.5, 72.3, 78.7]),
    (473.1, [49.5, 53.8, 56.4, 59.7, 63.0, 66.7, 70.9, 75.3]),
    (476.5, [51.3, 55.2, 58.3, 61.8, 65.1, 69.1, 73.8, 79.1]),
    (479.8, [52.9, 56.8, 60.2, 63.6, 67.4, 71.5, 76.5]),
    (483.2, [54.2, 58.0, 61.4, 65.6, 69.8, 74.0]),
    (486.9, [55.7, 59.4, 62.8, 66.3, 71.2, 78.3]),
    (490.3, [57.1, 60.8, 64.0, 68.0, 73.3]),
    (494.0, [58.5, 62.1, 65.4, 69.5, 75.6]),
    (497.6, [59.2, 63.4, 66.8, 70.7]),
    (501.5, [60.3, 64.5, 68.6]),
    (505.2, [61.6, 65.9, 70.0]),
    (509.4, [62.9, 67.2]),
    (513.7, [64.1, 68.4]),
    (518.0, [65.8]),
]

T3_POINTS = [
    (-78, 257), (-67, 255), (-61, 257), (-77, 265), (-75, 267), (-47, 255),
    (-38, 259), (-31, 257), (-22, 261), (-14, 257), (-6, 259), (6, 265), (8, 263),
    (12, 269), (18, 263), (21, 265), (22, 263), (31, 266), (32, 259), (34, 269), (38, 266),
    (38, 263), (41, 260), (42, 266), (11, 291), (24, 293), (25, 295), (24, 302), (28, 301),
    (27, 309), (32, 301), (34, 299), (36, 291), (38, 293), (38, 297), (42, 305), (34, 311),
    (35, 315), (42, 315), (43, 309), (-6, 317), (-10, 327), (20, 331), (35, 324),
    (35, 329), (-44, 371), (37, 369), (20, 383), (39, 387), (35, 391), (-36, 407),
    (30, 405), (43, 278), (42, 274), (41, 270),
    (65, 417), (70, 414), (71, 421), (64, 401), (70, 398), (69, 393), (64, 394), (54, 385),
    (57, 389), (46, 393), (47, 351), (49, 348), (52, 360), (53, 359), (54, 367), (58, 369),
    (60, 371)]

T3_DENSE_ROWS = [
    (255.0, [46.8, 49.5, 52.9, 55.2, 58.6, 61.3, 64.8, 67.1, 70.4]),
    (258.4, [47.9, 51.1, 54.0, 57.3, 60.0, 63.6, 66.2, 69.5, 72.0]),
    (261.9, [46.3, 48.8, 52.2, 55.9, 59.1, 62.4, 65.5, 68.3, 71.2]),
    (265.1, [47.5, 50.6, 53.5, 56.7, 60.8, 63.0, 67.0, 70.1]),
    (268.7, [46.6, 49.9, 52.4, 55.0, 58.2, 61.7, 64.3, 68.8, 71.7]),
    (272.0, [48.2, 51.4, 54.6, 57.8, 59.7, 62.9, 66.6, 69.2]),
    (275.4, [46.9, 50.0, 53.1, 56.1, 58.9, 61.0, 65.0, 67.7, 70.9]),
    (278.9, [47.7, 52.6, 55.5, 57.4, 60.4, 63.9, 66.0, 69.9]),
    (282.2, [46.4, 49.3, 54.2, 56.6, 59.4, 62.2, 64.7, 68.0, 71.5]),
    (285.6, [48.5, 51.7, 55.8, 58.5, 61.5, 63.4, 67.3, 70.3]),
    (289.0, [47.2, 53.3, 57.0, 59.8, 62.6, 65.8, 69.0]),
    (292.5, [49.6, 54.9, 58.1, 60.6, 64.1, 66.9, 72.2]),
    (295.8, [51.2, 56.3, 59.2, 61.9, 65.2, 68.4]),
    (299.3, [47.0, 53.8, 57.6, 60.1, 63.3, 66.4, 70.6]),
    (302.7, [49.2, 55.4, 58.7, 61.2, 64.5, 67.6]),
    (306.0, [52.0, 56.9, 59.6, 62.8, 65.9, 69.7]),
    (309.6, [48.4, 54.4, 58.0, 60.9, 63.7, 67.2]),
    (313.0, [55.8, 59.0, 62.1, 64.9, 68.6]),
    (316.3, [50.7, 57.2, 60.3, 63.0, 66.5]),
    (319.9, [53.6, 58.4, 61.6, 64.2, 67.9]),
    (323.2, [46.4, 56.0, 59.7, 62.5, 65.6]),
    (326.7, [54.8, 57.9, 61.0, 63.8, 69.3]),
    (330.0, [51.9, 58.9, 62.0, 65.3]),
    (333.5, [56.5, 60.0, 63.5, 66.8]),
    (336.9, [53.0, 58.2, 61.4, 64.6]),
    (340.3, [57.3, 60.7, 63.9, 68.1]),
    (343.8, [55.1, 59.5, 62.7, 66.0]),
    (347.2, [57.7, 61.3, 64.4]),
    (350.6, [54.5, 59.1, 62.3, 65.7]),
    (354.1, [56.6, 60.4, 63.6, 67.5]),
    (357.5, [58.3, 61.8, 65.0]),
    (361.0, [55.9, 59.9, 63.2, 66.4]),
    (364.4, [57.5, 61.1, 64.7]),
    (367.9, [59.4, 62.9, 65.8]),
    (371.3, [57.0, 60.6, 64.0]),
    (374.8, [58.8, 62.4, 66.1]),
    (378.2, [60.2, 63.5]),
    (381.7, [57.9, 61.7, 65.4]),
    (385.1, [59.6, 63.0]),
    (389.0, [61.2, 64.9]),
]

# grey bars at the left edge of each Turner panel: (angle0, angle1, p0, p1, shade)
T1_BARS = [(-90, -85.3, 358, 608, "dark"), (-85.3, -80.1, 290, 362, "light"),
           (-80.1, -75.0, 200, 344, "dark")]
T2_BARS = [(-84.1, -79.4, 200, 343, "dark"), (-79.4, -74.5, 200, 285, "light"),
           (-84.1, -79.4, 343, 446, "light"), (-89.8, -84.3, 412, 541, "dark")]
T3_BARS = [(-85.0, -80.2, 200, 338, "light"), (-80.2, -75.5, 315, 420, "dark")]

# ---------------------------------------------------------------- text
A_TITLE = ["DAT_043.p;  2020-01-07 21:38:12Z",
           "Profile = 01,   Method = [0  0 ]",
           r"146 < P < 226 m speed = 0.54 m s$^{-1}$, f$_{\rm HP}$ = 0.40 Hz"]
B_TITLE = ["DAT_056.p;  2021-07-01 19:19:15Z",
           "Profile = 01,   Method = [0  0 ]",
           r"146 < P < 226 m speed = 0.44 m s$^{-1}$, f$_{\rm HP}$ = 0.40 Hz"]
C_TITLE = ["DAT_009.p;  2022-10-06 19:11:30Z",
           "Profile = 01,   Method = [0  0 ]",
           r"146 < P < 226 m speed = 0.75 m s$^{-1}$, f$_{\rm HP}$ = 0.40 Hz"]

A_LEGEND = [r"$\nabla$u$_1$ clean", r"$\epsilon$=9.9 $\times$ 10$^{-10}$W kg$^{-1}$",
            r"$\nabla$u$_2$ clean", r"$\epsilon$=1.1 $\times$ 10$^{-9}$W kg$^{-1}$",
            r"k$_{\rm max}$ u$_1$=17cpm", r"k$_{\rm max}$ u$_2$=18cpm"]
B_LEGEND = [r"$\nabla$u$_1$ clean", r"$\epsilon$=1.7 $\times$ 10$^{-9}$W kg$^{-1}$",
            r"$\nabla$u$_2$ clean", r"$\epsilon$=1.3 $\times$ 10$^{-9}$W kg$^{-1}$",
            r"k$_{\rm max}$ u$_1$=20cpm", r"k$_{\rm max}$ u$_2$=19cpm"]
C_LEGEND = [r"$\nabla$u$_1$ clean", r"$\epsilon$=1.1 $\times$ 10$^{-9}$W kg$^{-1}$",
            r"$\nabla$u$_2$ clean", r"$\epsilon$=6.2 $\times$ 10$^{-10}$W kg$^{-1}$",
            r"k$_{\rm max}$ u$_1$=17cpm", r"k$_{\rm max}$ u$_2$=15cpm"]

CAPTION = [
    (1073, [("Fig.", 1738), ("3:", 1864), ("Turner", 1943), ("angle", 2165),
            ("(degrees).", 2343), ("Values", 2642), (">45°", 2853), ("(<-45°)", 3012),
            ("indicate", 3226)]),
    (1149, [("that", 1738), ("the", 1878), ("water", 1998), ("column", 2189),
            ("has", 2421), ("conditions", 2550), ("favorable", 2867), ("to", 3154),
            ("the", 3239), ("salt", 3356)]),
    (1225, [("fingers (diffusive) mode.", 1738)]),
]

plt.rcParams["font.family"] = ["Liberation Sans", "DejaVu Sans"]
plt.rcParams["mathtext.fontset"] = "custom"
plt.rcParams["mathtext.rm"] = "Liberation Sans"
plt.rcParams["mathtext.it"] = "Liberation Sans:italic"
plt.rcParams["mathtext.bf"] = "Liberation Sans:bold"
plt.rcParams["axes.unicode_minus"] = False


def add_axes_px(fig, left, top, right, bottom):
    return fig.add_axes([left / FIG_W, 1 - bottom / FIG_H,
                         (right - left) / FIG_W, (bottom - top) / FIG_H])


def shape_curve(peak):
    lk, lp = peak
    return 10 ** (np.array(SHAPE_DK) + lk), 10 ** (np.array(SHAPE_DPHI) + lp)


def spectrum_panel(fig, box, xlim, ylim, ref_peaks, label_x, label_y, u1, u2,
                   fits, kmax, show_xlabels):
    ax = add_axes_px(fig, *box)
    ax.set_xscale("log")
    ax.set_yscale("log")

    for peak, lab, ly in zip(ref_peaks, REF_LABELS, label_y):
        ax.plot(*shape_curve(peak), color="k", lw=0.9, zorder=2)
        ax.text(10 ** label_x, 10 ** ly, lab, ha="right", va="center",
                fontsize=50, zorder=3)

    for series, fit, color in ((u1, fits[0], BLUE), (u2, fits[1], ORANGE)):
        lk, lp = np.array(series).T
        ax.plot(10 ** lk, 10 ** lp, color=color, lw=6, zorder=4,
                solid_joinstyle="round")
        ax.plot(*shape_curve(fit), color="k", lw=3.5, zorder=5)
    for (lk, lp), color in zip(kmax, (BLUE, ORANGE)):
        ax.plot([10 ** lk], [10 ** lp], marker="^", ms=42, color=color,
                mec="white", mew=1.2, ls="none", zorder=6)

    ax.set_xlim(10 ** xlim[0], 10 ** xlim[1])
    ax.set_ylim(10 ** ylim[0], 10 ** ylim[1])
    for axis in (ax.xaxis, ax.yaxis):
        axis.set_major_locator(LogLocator(base=10, numticks=30))
        axis.set_minor_locator(LogLocator(base=10, subs=np.arange(2, 10), numticks=30))
        axis.set_minor_formatter(NullFormatter())
    ax.grid(True, which="major", color="#d4d4d4", lw=1.0)
    ax.grid(True, which="minor", color="#e2e2e2", lw=0.8, ls=(0, (2, 2)))
    ax.set_axisbelow(True)
    ax.tick_params(which="both", direction="in", top=True, right=True,
                   colors="#262626", labelsize=21, width=0.8)
    ax.tick_params(which="major", length=10)
    ax.tick_params(which="minor", length=5)
    ax.tick_params(axis="y", pad=8)
    ax.tick_params(axis="x", pad=12)
    for s in ax.spines.values():
        s.set_color("#262626")
        s.set_linewidth(1.0)
    if not show_xlabels:
        ax.tick_params(axis="x", which="both", labelbottom=False, bottom=False)
        ax.spines["bottom"].set_visible(False)
    return ax


def draw_legend(fig, box, rows_y, handle_x, text_x, labels):
    left, top, width, height = box
    lax = add_axes_px(fig, left, top, left + width, top + height)
    lax.set_xlim(0, width)
    lax.set_ylim(height, 0)
    lax.set_xticks([])
    lax.set_yticks([])
    for s in lax.spines.values():
        s.set_color("#262626")
        s.set_linewidth(1.2)
    handles = [("line", BLUE, 4.5), ("line", "k", 3.0), ("line", ORANGE, 4.5),
               ("line", "k", 3.0), ("tri", BLUE, 0), ("tri", ORANGE, 0)]
    for y, (kind, color, lw), lab in zip(rows_y, handles, labels):
        if kind == "line":
            lax.plot(handle_x, [y, y], color=color, lw=lw, solid_capstyle="butt")
        else:
            lax.plot([sum(handle_x) / 2], [y], marker="^", ms=19, color=color,
                     mec="white", mew=0.8, ls="none")
        lax.text(text_x, y, lab, ha="left", va="center", fontsize=19)


def turner_panel(fig, left, points, dense_rows, bars, show_ylabels):
    ax = add_axes_px(fig, left, -152, left + 524, 977)
    ax.set_xlim(-90, 90)
    ax.set_ylim(607.3, 200)
    ax.axvspan(-90, -45, color=PINK, lw=0, zorder=0)
    ax.axvspan(45, 90, color=LAVENDER, lw=0, zorder=0)
    ax.set_xticks([-45, 0, 45])
    ax.set_yticks([300, 400, 500, 600])
    ax.grid(True, color="#d6d6d6", lw=1.2)
    ax.set_axisbelow(True)

    pts = list(points) + [(a, p) for p, angs in dense_rows for a in angs]
    ang, pres = np.array(pts, dtype=float).T
    ax.axvline(-45, color="k", lw=3.2, zorder=2)
    ax.axvline(45, color="k", lw=3.2, zorder=2)
    ax.plot(ang, pres, "o", color="#0000FF", ms=7.8, mec="none", zorder=3)

    for a0, a1, p0, p1, shade in bars:
        if shade == "dark":
            rect = Rectangle((a0, p0), a1 - a0, p1 - p0, fc="#7a7a7a", alpha=0.45,
                             ec="none", zorder=4)
        else:
            rect = Rectangle((a0, p0), a1 - a0, p1 - p0, fc="#d0d0d0", alpha=0.6,
                             ec="#b8b0b0", lw=0.8, zorder=4)
        ax.add_patch(rect)

    ax.tick_params(direction="in", length=8, width=0.8, labelsize=20,
                   colors="#262626", labelleft=show_ylabels)
    ax.tick_params(axis="y", pad=8)
    ax.tick_params(axis="x", pad=16)
    for s in ax.spines.values():
        s.set_color("#8a8a8a")
        s.set_linewidth(1.0)
    ax.spines["left"].set_color("#404040")
    return ax


fig = plt.figure(figsize=(FIG_W / DPI, FIG_H / DPI), dpi=DPI)

# Turner angle panels (upper right, cut by the page)
turner_panel(fig, 1796, T1_POINTS, [], T1_BARS, True)
turner_panel(fig, 2367, T2_POINTS, T2_DENSE_ROWS, T2_BARS, False)
turner_panel(fig, 2938.5, T3_POINTS, T3_DENSE_ROWS, T3_BARS, False)

# spectra panels
panels = [
    dict(box=(166, 280, 1328, 1253), xlim=(-0.332, 2.664), ylim=(-7.246, 0),
         refs=A_REF_PEAKS, lx=-0.038, ly=[-5.31, -4.645, -3.98, -3.31, -2.645, -1.98],
         u1=A_U1, u2=A_U2, fits=A_FITS, kmax=A_KMAX, xl=False,
         title=A_TITLE, title_x=747, title_y=(149, 192, 242),
         legend=A_LEGEND, leg_box=(1357, 280, 358, 295),
         leg_rows=[29, 75, 123, 170, 217, 263], leg_handle=(9, 98), leg_text=101,
         ylab=(72, 766), xlab=None, letter=("a)", 257, 83)),
    dict(box=(211, 1408, 1339, 2437), xlim=(-0.246, 2.75), ylim=(-8, 0),
         refs=B_REF_PEAKS, lx=0.038, ly=[-5.24, -4.49, -3.83, -3.17, -2.49, -1.81],
         u1=B_U1, u2=B_U2, fits=B_FITS, kmax=B_KMAX, xl=True,
         title=B_TITLE, title_x=775, title_y=(1280, 1321, 1372),
         legend=B_LEGEND, leg_box=(1367, 1406, 327, 281),
         leg_rows=[24, 74, 116, 164, 205, 253], leg_handle=(7, 89), leg_text=98,
         ylab=(126, 1922), xlab=(775, 2512), letter=("b)", 268, 1463)),
    dict(box=(1813, 1393, 2937, 2426), xlim=(-0.476, 2.532), ylim=(-8, 0),
         refs=C_REF_PEAKS, lx=-0.184, ly=[-5.58, -4.90, -4.23, -3.56, -2.90, -2.22],
         u1=C_U1, u2=C_U2, fits=C_FITS, kmax=C_KMAX, xl=True,
         title=C_TITLE, title_x=2375, title_y=(1265, 1306, 1354),
         legend=C_LEGEND, leg_box=(2959, 1393, 344, 283),
         leg_rows=[22, 74, 113, 164, 205, 251], leg_handle=(8, 93), leg_text=102,
         ylab=(1720, 1910), xlab=(2375, 2504), letter=("c)", 1868, 1448)),
]

for p in panels:
    spectrum_panel(fig, p["box"], p["xlim"], p["ylim"], p["refs"], p["lx"], p["ly"],
                   p["u1"], p["u2"], p["fits"], p["kmax"], p["xl"])
    for line, y in zip(p["title"], p["title_y"]):
        fig.text(p["title_x"] / FIG_W, 1 - y / FIG_H, line, ha="center", va="center",
                 fontsize=23.5, color="#1a1a1a")
    draw_legend(fig, p["leg_box"], p["leg_rows"], p["leg_handle"], p["leg_text"],
                p["legend"])
    fig.text(p["ylab"][0] / FIG_W, 1 - p["ylab"][1] / FIG_H,
             r"$\Phi$  ($k$)   [s$^{-2}$ cpm$^{-1}$]", rotation=90, ha="center",
             va="center", fontsize=22, color="#1a1a1a")
    if p["xlab"]:
        fig.text(p["xlab"][0] / FIG_W, 1 - p["xlab"][1] / FIG_H, r"$k$  [cpm]",
                 ha="center", va="center", fontsize=22, color="#1a1a1a")
    s, x, y = p["letter"]
    fig.text(x / FIG_W, 1 - y / FIG_H, s, ha="center", va="center", fontsize=60,
             family="Liberation Serif", zorder=10)

# caption of the Turner-angle figure
for baseline, words in CAPTION:
    for word, x in words:
        fig.text(x / FIG_W, 1 - baseline / FIG_H, word, ha="left", va="baseline",
                 fontsize=48.5, family="Liberation Serif", color="#111111")

# page margin bar
fig.add_artist(Rectangle((0, 0), 17 / FIG_W, 1, transform=fig.transFigure,
                         color="#4472C4", zorder=20))

fig.savefig("out.png", dpi=DPI)
